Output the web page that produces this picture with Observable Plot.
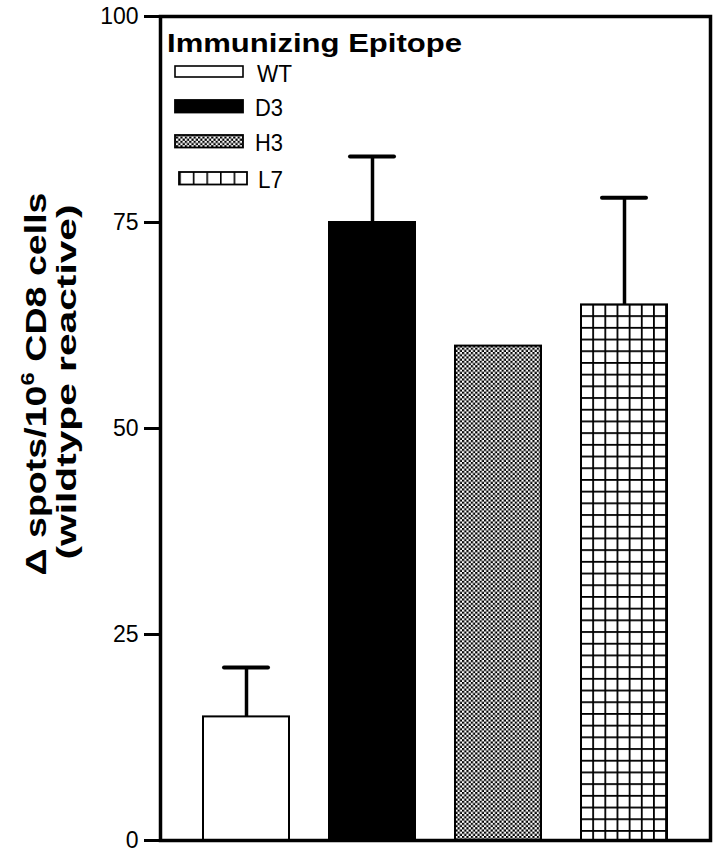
<!DOCTYPE html>
<html>
<head>
<meta charset="utf-8">
<script src="https://cdn.jsdelivr.net/npm/d3@7"></script>
<script src="https://cdn.jsdelivr.net/npm/@observablehq/plot@0.6"></script>
<style>
  html, body { margin: 0; padding: 0; background: white; }
  #chart svg { display: block; }
</style>
</head>
<body>
<div id="chart"></div>
<script>
// ---- data ----
const categories = ["WT", "D3", "H3", "L7"];
const values = [15, 75, 60, 65];
const upperErr = [21, 83, null, 78];
const yTicks = [0, 25, 50, 75, 100];
const legendTitle = "Immunizing Epitope";
const yLabelLine1 = ["Δ spots/10", "6", " CD8 cells"];
const yLabelLine2 = "(wildtype reactive)";

const data = categories.map((c, i) => ({cat: c, value: values[i], upper: upperErr[i]}));
const errData = data.filter(d => d.upper != null);

const font = "'Liberation Sans', Arial, Helvetica, sans-serif";
const patternFills = ["white", "black", "url(#checker)", "url(#grid)"];

const chart = Plot.plot({
  width: 718,
  height: 853,
  marginLeft: 160,
  marginRight: 8,
  marginTop: 16,
  marginBottom: 13,
  style: {fontFamily: font, fontSize: "23px", color: "black", background: "white"},
  x: {domain: categories, axis: null, paddingInner: 0.32, paddingOuter: 0.33},
  y: {domain: [0, 100], axis: null},
  color: {type: "ordinal", domain: categories, range: patternFills},
  marks: [
    Plot.axisY({ticks: yTicks, tickSize: 16, tickPadding: 6, strokeWidth: 3, fontSize: 23, label: null, tickFormat: d => String(d)}),
    Plot.ruleX(errData, {x: "cat", y1: "value", y2: "upper", stroke: "black", strokeWidth: 3.5}),
    Plot.tickY(errData, {x: "cat", y: "upper", stroke: "black", strokeWidth: 4, strokeLinecap: "round", insetLeft: 21, insetRight: 21}),
    Plot.barY(data, {x: "cat", y: "value", fill: "cat", stroke: "black", strokeWidth: 2}),
    Plot.frame({stroke: "black", strokeWidth: 3.5})
  ]
});

document.getElementById("chart").appendChild(chart);

const svg = d3.select(chart);
const defs = svg.insert("defs", ":first-child");

// checker pattern
const chk = defs.append("pattern").attr("id", "checker").attr("patternUnits", "userSpaceOnUse")
  .attr("width", 4.4).attr("height", 4.4);
chk.append("rect").attr("width", 4.4).attr("height", 4.4).attr("fill", "white");
chk.append("rect").attr("width", 2.2).attr("height", 2.2).attr("fill", "black");
chk.append("rect").attr("x", 2.2).attr("y", 2.2).attr("width", 2.2).attr("height", 2.2).attr("fill", "black");

// grid pattern (aligned to the L7 bar after render)
const grd = defs.append("pattern").attr("id", "grid").attr("patternUnits", "userSpaceOnUse")
  .attr("width", 12.15).attr("height", 11.7);
grd.append("rect").attr("width", 12.15).attr("height", 11.7).attr("fill", "white");
grd.append("rect").attr("width", 1.8).attr("height", 11.7).attr("fill", "black");
grd.append("rect").attr("width", 12.15).attr("height", 1.8).attr("fill", "black");

// legend grid pattern (vertical dividers only)
const grdL = defs.append("pattern").attr("id", "gridLegend").attr("patternUnits", "userSpaceOnUse")
  .attr("x", 179.2).attr("width", 13.6).attr("height", 100);
grdL.append("rect").attr("width", 13.6).attr("height", 100).attr("fill", "white");
grdL.append("rect").attr("width", 1.6).attr("height", 100).attr("fill", "black");

// align grid pattern to L7 bar
svg.selectAll("rect").filter(function() {
  return this.getAttribute("fill") === "url(#grid)";
}).each(function() {
  const x = +this.getAttribute("x"), y = +this.getAttribute("y");
  grd.attr("x", x - 0.9).attr("y", y - 0.9);
});

// y label
const yl = svg.append("g").attr("transform", "rotate(-90)")
  .attr("font-family", font).attr("font-weight", "bold").attr("fill", "black")
  .attr("text-anchor", "middle");
const t1 = yl.append("text").attr("x", -384).attr("y", 46)
  .attr("font-size", 30).attr("textLength", 383).attr("lengthAdjust", "spacingAndGlyphs");
t1.append("tspan").text(yLabelLine1[0]);
t1.append("tspan").attr("dy", -12).attr("font-size", 19).text(yLabelLine1[1]);
t1.append("tspan").attr("dy", 12).text(yLabelLine1[2]);
yl.append("text").attr("x", -382).attr("y", 76)
  .attr("font-size", 28).attr("textLength", 355).attr("lengthAdjust", "spacingAndGlyphs")
  .text(yLabelLine2);

// legend
const lg = svg.append("g").attr("font-family", font).attr("fill", "black").attr("text-anchor", "start");
lg.append("text").attr("x", 167).attr("y", 52).attr("font-size", 26).attr("font-weight", "bold")
  .attr("textLength", 295).attr("lengthAdjust", "spacingAndGlyphs").text(legendTitle);
const legendFills = ["white", "black", "url(#checker)", "url(#gridLegend)"];
const rowY = [66, 100, 135, 172];
const labelX = [257, 255, 255, 258];
const labelW = [35, 28, 28, 25];
categories.forEach((c, i) => {
  lg.append("rect").attr("x", i === 3 ? 179 : 175).attr("y", rowY[i])
    .attr("width", 68).attr("height", i === 0 ? 11 : 12.5)
    .attr("fill", legendFills[i]).attr("stroke", "black").attr("stroke-width", i === 0 ? 1.6 : 1.8);
  lg.append("text").attr("x", labelX[i]).attr("y", rowY[i] + 16).attr("font-size", 24)
    .attr("textLength", labelW[i]).attr("lengthAdjust", "spacingAndGlyphs").text(c);
});
</script>
</body>
</html>
